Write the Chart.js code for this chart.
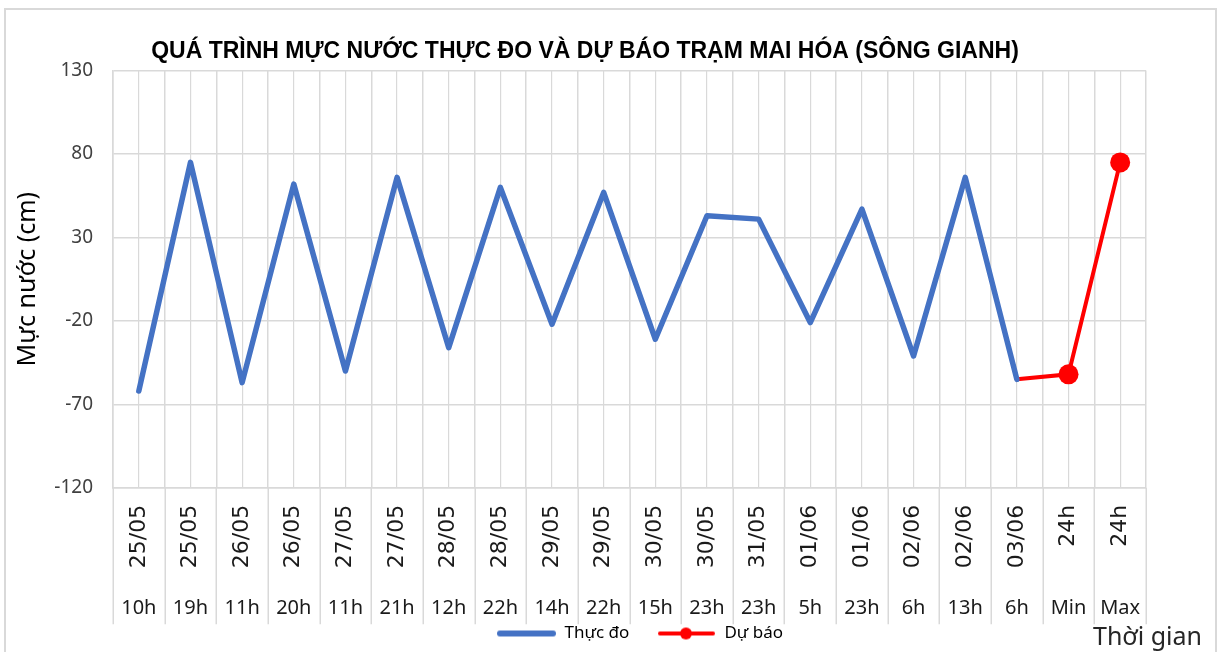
<!DOCTYPE html>
<html>
<head>
<meta charset="utf-8">
<script src="https://cdn.jsdelivr.net/npm/chart.js@4.4.0/dist/chart.umd.min.js"></script>
<style>
  html, body { margin: 0; padding: 0; background: #fff; overflow: hidden; }
  #frame { position: absolute; left: 4px; top: 8px; width: 1209px; height: 650px;
           border: 2px solid #d9d9d9; border-bottom: none; }
  canvas { display: block; }
</style>
</head>
<body>
<div id="frame"><canvas id="mucNuoc" width="1209" height="642"></canvas></div>
<script>
// ngày (nhãn xoay) và giờ (nhãn dưới)
const dates = ['25/05', '25/05', '26/05', '26/05', '27/05', '27/05', '28/05', '28/05', '29/05', '29/05',
               '30/05', '30/05', '31/05', '01/06', '01/06', '02/06', '02/06', '03/06', '24h', '24h'];
const hours = ['10h', '19h', '11h', '20h', '11h', '21h', '12h', '22h', '14h', '22h',
               '15h', '23h', '23h', '5h', '23h', '6h', '13h', '6h', 'Min', 'Max'];

const thucDo = [-62, 75, -57, 62, -50, 66, -36, 60, -22, 57,
                -31, 43, 41, -21, 47, -41, 66, -55, null, null];
const duBao = [null, null, null, null, null, null, null, null, null, null,
               null, null, null, null, null, null, null, -55, -52, 75];

const yTicks = [-120, -70, -20, 30, 80, 130];

const title = 'QUÁ TRÌNH MỰC NƯỚC THỰC ĐO VÀ DỰ BÁO TRẠM MAI HÓA (SÔNG GIANH)';
const yTitle = 'Mực nước (cm)';
const xTitle = 'Thời gian';

const BLUE = '#4472C4';
const RED = '#FF0000';
const GRID = '#d9d9d9';

// icon chú giải: đường kẻ (có chấm cho Dự báo), chừa trống bên trái
function legendIcon(color, width, dot) {
  const c = document.createElement('canvas');
  c.width = 80; c.height = 16;
  const g = c.getContext('2d');
  g.strokeStyle = color;
  g.lineWidth = width;
  g.lineCap = 'round';
  g.beginPath(); g.moveTo(24, 8); g.lineTo(77, 8); g.stroke();
  if (dot) {
    g.fillStyle = color;
    g.beginPath(); g.arc(50, 8, 6, 0, Math.PI * 2); g.fill();
  }
  return c;
}
const icons = [legendIcon(BLUE, 6, false), legendIcon(RED, 4, true)];

// vạch ngăn giữa các nhóm nhãn, kéo từ trục xuống hết phần giờ
const separators = {
  id: 'separators',
  afterDraw(chart) {
    const x = chart.scales.x, x2 = chart.scales.x2;
    const c = chart.ctx;
    c.save();
    c.strokeStyle = GRID;
    c.lineWidth = 1.5;
    c.beginPath();
    for (let i = 0; i <= dates.length; i++) {
      const px = Math.round(x.getPixelForValue(i - 0.5)) + 0.25;
      c.moveTo(px, x.top);
      c.lineTo(px, x2.bottom + 6);
    }
    c.stroke();
    c.restore();
  }
};

// chữ "Thời gian" nằm góc dưới bên phải
const xTitlePlugin = {
  id: 'xTitlePlugin',
  afterDraw(chart) {
    const c = chart.ctx;
    c.save();
    c.font = '25px "Noto Sans"';
    c.fillStyle = '#262626';
    c.textBaseline = 'middle';
    c.fillText(xTitle, chart.chartArea.right - 53, 628);
    c.restore();
  }
};

new Chart(document.getElementById('mucNuoc'), {
  type: 'line',
  data: {
    labels: dates,
    datasets: [{
      label: 'Thực đo',
      data: thucDo,
      borderColor: BLUE,
      backgroundColor: BLUE,
      borderWidth: 5.5,
      borderCapStyle: 'round',
      borderJoinStyle: 'round',
      pointRadius: 0,
      tension: 0
    }, {
      label: 'Dự báo',
      data: duBao,
      borderColor: RED,
      backgroundColor: RED,
      borderWidth: 4,
      borderCapStyle: 'round',
      pointRadius: ctx => (ctx.dataIndex >= 18 ? 10 : 0),
      pointBorderWidth: 0,
      tension: 0
    }]
  },
  options: {
    responsive: false,
    animation: false,
    events: [],
    layout: { padding: { left: 18, right: 69, top: 0, bottom: 0 } },
    plugins: {
      title: {
        display: true,
        text: title,
        color: '#000',
        font: { family: '"Liberation Sans", Arial, sans-serif', size: 23, weight: 'bold' },
        padding: { top: 28, bottom: 5 }
      },
      legend: {
        position: 'bottom',
        fullSize: false,
        labels: {
          usePointStyle: true,
          pointStyleWidth: 80,
          padding: 6.7,
          color: '#404040',
          font: { family: '"Noto Sans"', size: 17 },
          generateLabels: chart => chart.data.datasets.map((ds, i) => ({
            text: ds.label,
            pointStyle: icons[i],
            fillStyle: ds.borderColor,
            strokeStyle: ds.borderColor,
            lineWidth: 0,
            hidden: false,
            datasetIndex: i
          }))
        }
      },
      tooltip: { enabled: false }
    },
    scales: {
      x: {
        type: 'category',
        labels: dates,
        offset: true,
        grid: { offset: true, color: GRID, lineWidth: 1.5, drawTicks: false },
        border: { color: GRID, width: 1.5 },
        ticks: {
          autoSkip: false, minRotation: 90, maxRotation: 90, padding: 17,
          color: '#1a1a1a', font: { family: '"DejaVu Sans"', size: 22 }
        },
        afterFit: s => { s.height = 80.5; }
      },
      x2: {
        type: 'category',
        labels: hours,
        position: 'bottom',
        offset: true,
        grid: { offset: false, color: GRID, lineWidth: 1.2, drawTicks: false },
        border: { display: false },
        ticks: {
          autoSkip: false, maxRotation: 0, padding: 27.5,
          color: '#1a1a1a', font: { family: '"Noto Sans"', size: 20 }
        },
        afterFit: s => { s.height = 50; }
      },
      y: {
        min: -120,
        max: 130,
        afterBuildTicks: s => { s.ticks = yTicks.map(v => ({ value: v })); },
        afterFit: s => { s.width = 89; },
        grid: { color: GRID, lineWidth: 1.5, drawTicks: false },
        border: { color: GRID, width: 1.5 },
        ticks: { padding: 20, color: '#404040', font: { family: '"Noto Sans"', size: 19 } },
        title: {
          display: true,
          text: yTitle,
          color: '#000',
          font: { family: '"Noto Sans"', size: 25 },
          padding: { top: -11, bottom: 0 }
        }
      }
    }
  },
  plugins: [separators, xTitlePlugin]
});
</script>
</body>
</html>
